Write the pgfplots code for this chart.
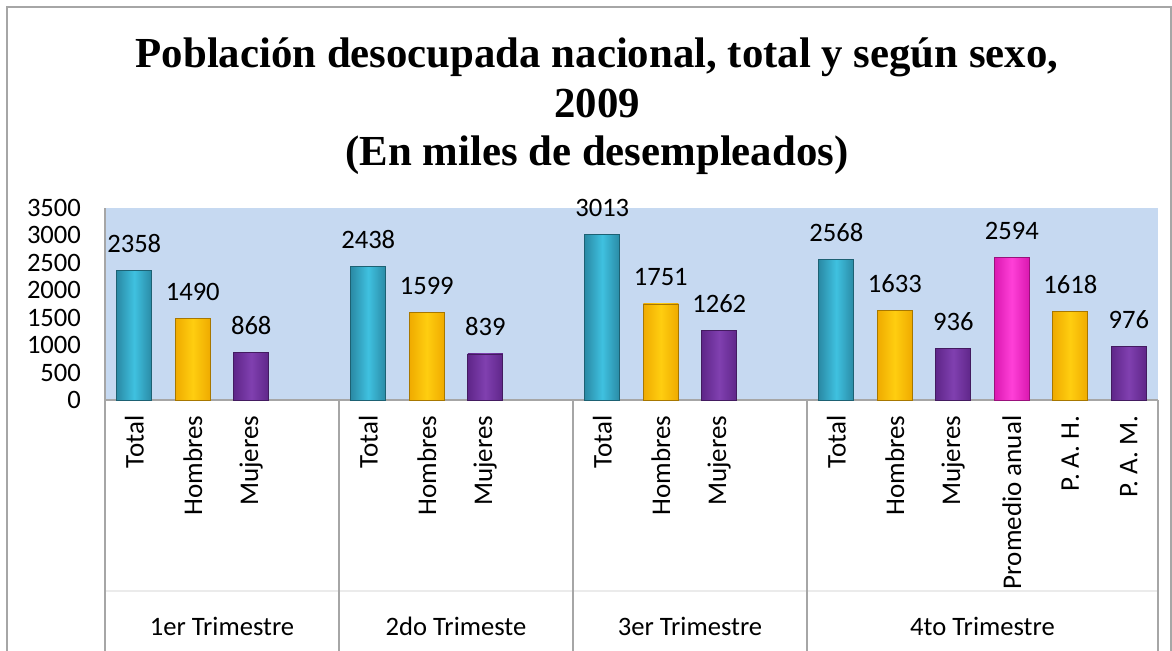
\documentclass[border=0pt]{standalone}
\usepackage{pgfplots}
\pgfplotsset{compat=1.18}
\usepackage{fontspec}
\setmainfont{Carlito}
\newfontfamily\titlefont{Liberation Serif}
\definecolor{bgblue}{HTML}{C6D9F1}
\definecolor{tealmid}{HTML}{3FC1E0}
\definecolor{tealdark}{HTML}{2A8AA5}
\definecolor{goldmid}{HTML}{FFCE10}
\definecolor{golddark}{HTML}{EFAA00}
\definecolor{purpmid}{HTML}{8040B0}
\definecolor{purpdark}{HTML}{5F2689}
\definecolor{magmid}{HTML}{FF40D8}
\definecolor{magdark}{HTML}{DA18B0}
\definecolor{sepgray}{HTML}{A6A6A6}
\pgfplotsset{
  tealbar/.style={ybar, bar shift=0pt, draw=tealdark!70!black, left color=tealdark, right color=tealdark, middle color=tealmid},
  goldbar/.style={ybar, bar shift=0pt, draw=golddark!70!black, left color=golddark, right color=golddark, middle color=goldmid},
  purpbar/.style={ybar, bar shift=0pt, draw=purpdark!70!black, left color=purpdark, right color=purpdark, middle color=purpmid},
  magbar/.style={ybar, bar shift=0pt, draw=magdark!70!black, left color=magdark, right color=magdark, middle color=magmid},
}
\begin{document}
\begin{tikzpicture}
\useasboundingbox (0,0) rectangle (586pt,325pt);
\draw[sepgray, line width=0.6pt] (3.5pt,-20pt) -- (3.5pt,321.5pt) -- (585.5pt,321.5pt) -- (585.5pt,-20pt);
\node[font=\titlefont\bfseries\fontsize{21.4}{25}\selectfont, anchor=base] at (298.5pt,291.5pt) {Población desocupada nacional, total y según sexo,};
\node[font=\titlefont\bfseries\fontsize{21.4}{25}\selectfont, anchor=base] at (298.5pt,266.5pt) {2009};
\node[font=\titlefont\bfseries\fontsize{21.4}{25}\selectfont, anchor=base] at (298.5pt,242.5pt) {(En miles de desempleados)};
\begin{axis}[
  at={(52.5pt,125pt)}, anchor=south west,
  scale only axis, width=526.5pt, height=96pt,
  xmin=-0.5, xmax=17.5, ymin=0, ymax=3500,
  ytick={0,500,...,3500},
  xtick={0,1,2,4,5,6,8,9,10,12,13,14,15,16,17},
  xticklabels={Total,Hombres,Mujeres,Total,Hombres,Mujeres,Total,Hombres,Mujeres,Total,Hombres,Mujeres,Promedio anual,P. A. H.,P. A. M.},
  xticklabel style={rotate=90, anchor=east, font=\fontsize{13.5}{15}\selectfont},
  xticklabel shift=4.3pt,
  yticklabel style={font=\fontsize{13.3}{15}\selectfont},
  yticklabel shift=8.5pt,
  /pgf/number format/assume math mode=true,
  /pgf/number format/1000 sep={},
  tick style={draw=none}, major tick length=0pt,
  axis lines*=left,
  axis line style={draw=sepgray, line width=0.6pt},
  axis background/.style={fill=bgblue},
  clip=false,
  bar width=17.5pt,
  nodes near coords,
  every node near coord/.append style={font=\fontsize{13.3}{15}\selectfont, anchor=base, yshift=9pt},
]
\addplot[tealbar] coordinates {(0,2358)};
\addplot[tealbar] coordinates {(4,2438)};
\addplot[tealbar] coordinates {(8,3013)};
\addplot[tealbar] coordinates {(12,2568)};
\addplot[goldbar] coordinates {(1,1490)};
\addplot[goldbar] coordinates {(5,1599)};
\addplot[goldbar] coordinates {(9,1751)};
\addplot[goldbar] coordinates {(13,1633)};
\addplot[goldbar] coordinates {(16,1618)};
\addplot[purpbar] coordinates {(2,868)};
\addplot[purpbar] coordinates {(6,839)};
\addplot[purpbar] coordinates {(10,1262)};
\addplot[purpbar] coordinates {(14,936)};
\addplot[purpbar] coordinates {(17,976)};
\addplot[magbar] coordinates {(15,2594)};
\draw[black!8, line width=0.6pt] ([yshift=-95.5pt]axis cs:-0.5,0) -- ([yshift=-95.5pt]axis cs:17.5,0);
\draw[sepgray, line width=0.6pt] (axis cs:-0.5,0) -- ([yshift=-140pt]axis cs:-0.5,0);
\draw[sepgray, line width=0.6pt] (axis cs:3.5,0) -- ([yshift=-140pt]axis cs:3.5,0);
\draw[sepgray, line width=0.6pt] (axis cs:7.5,0) -- ([yshift=-140pt]axis cs:7.5,0);
\draw[sepgray, line width=0.6pt] (axis cs:11.5,0) -- ([yshift=-140pt]axis cs:11.5,0);
\draw[sepgray, line width=0.6pt] (axis cs:17.5,0) -- ([yshift=-140pt]axis cs:17.5,0);
\node[font=\fontsize{13.3}{15}\selectfont, anchor=base] at ([yshift=-117.5pt]axis cs:1.5,0) {1er Trimestre};
\node[font=\fontsize{13.3}{15}\selectfont, anchor=base] at ([yshift=-117.5pt]axis cs:5.5,0) {2do Trimeste};
\node[font=\fontsize{13.3}{15}\selectfont, anchor=base] at ([yshift=-117.5pt]axis cs:9.5,0) {3er Trimestre};
\node[font=\fontsize{13.3}{15}\selectfont, anchor=base] at ([yshift=-117.5pt]axis cs:14.5,0) {4to Trimestre};
\end{axis}
\end{tikzpicture}
\end{document}
